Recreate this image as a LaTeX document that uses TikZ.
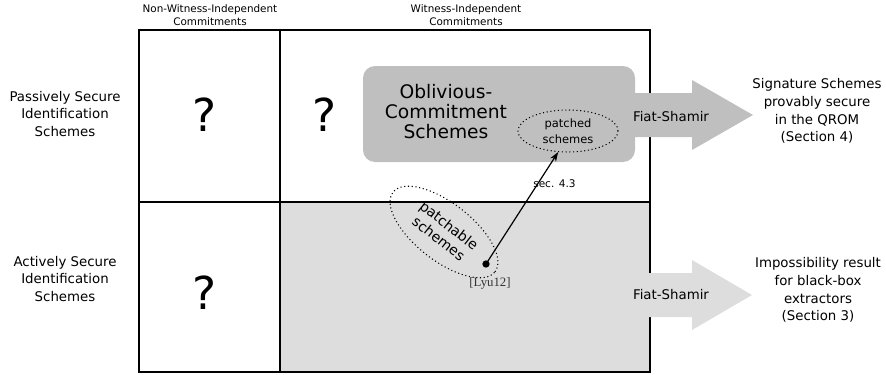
\documentclass[tikz,border=0pt]{standalone}
\usepackage{fontspec}
\setmainfont{DejaVu Sans}
\newfontfamily\refserif{Liberation Serif}
\usetikzlibrary{shapes.geometric,arrows.meta}

\definecolor{boxgray}{HTML}{BFBFBF}
\definecolor{cellgray}{HTML}{DDDDDD}

\begin{document}
\begin{tikzpicture}[x=0.75pt,y=0.75pt,yscale=-1,xscale=1,
  grid line/.style={line width=0.9pt},
  label text/.style={inner sep=0.75pt, align=center, font=\fontsize{10}{12.8}\selectfont},
  result text/.style={inner sep=0.75pt, align=center, font=\fontsize{10}{13.3}\selectfont},
  head text/.style={inner sep=0.75pt, align=center, font=\fontsize{7.8}{9.8}\selectfont},
  big mark/.style={inner sep=0.75pt, font=\fontsize{34}{40}\selectfont},
  dotted oval/.style={draw, ellipse, dotted, line width=0.8pt, inner sep=0pt, align=center}]
\useasboundingbox (0,0) rectangle (886,375);

%Shape: Rectangle [shaded cell]
\fill [cellgray] (280,202) rectangle (650,372);
%Straight Lines [table]
\draw [grid line] (139,30) rectangle (650,372);
\draw [grid line] (280,30) -- (280,372);
\draw [grid line] (139,202) -- (650,202);
%Rounded Rect [oblivious box]
\fill [boxgray, rounded corners=9pt] (363,66) rectangle (635,162);
%Shape: Right Arrow [upper]
\fill [boxgray] (600,93) -- (692,93) -- (692,80) -- (753,115) -- (692,150) -- (692,137) -- (600,137) -- cycle;
%Shape: Right Arrow [lower]
\fill [cellgray] (600,273) -- (692,273) -- (692,260) -- (752,295) -- (692,330) -- (692,317) -- (600,317) -- cycle;

% Text Node
\draw (210,15) node [head text] (nwi) {Non-Witness-Independent\\Commitments};
% Text Node
\draw (466,15) node [head text] (wi) {Witness-Independent\\Commitments};
% Text Node
\draw (65,114) node [label text] (passive) {Passively Secure\\Identification\\Schemes};
% Text Node
\draw (65,279) node [label text] (active) {Actively Secure\\Identification\\Schemes};
% Text Node
\draw (205,115) node [big mark] (qa) {?};
% Text Node
\draw (325,115) node [big mark] (qb) {?};
% Text Node
\draw (205,293) node [big mark] (qc) {?};
% Text Node
\draw (446,112) node [inner sep=0.75pt, align=center, font=\fontsize{14}{15}\selectfont] (ocs) {Oblivious-\\Commitment\\Schemes};
%Shape: Ellipse [patched]
\draw (568,131) node [dotted oval, minimum width=75pt, minimum height=31.5pt, font=\fontsize{8.6}{11.8}\selectfont] (patched) {patched\\schemes};
%Shape: Ellipse [patchable]
\draw (444,232) node [dotted oval, rotate=-38, minimum width=97pt, minimum height=43pt, font=\fontsize{10.5}{12.5}\selectfont] (patchable) {patchable\\schemes};
%Shape: Circle [dot]
\draw (486,264) node [circle, fill, inner sep=0pt, minimum size=5.5pt] (lyu) {};
% Text Node
\draw (490,283) node [inner sep=0.75pt, font=\refserif\fontsize{9.6}{11}\selectfont, text=black!80] (lyuref) {[Lyu12]};
%Straight Lines [sec. 4.3]
\draw [line width=0.9pt, -{Stealth[length=7pt,width=5pt]}] (lyu.center) -- (patched.245);
% Text Node
\draw (532,184) node [anchor=west, inner sep=0.75pt, font=\fontsize{7.9}{9}\selectfont] (sec) {sec. 4.3};
% Text Node
\draw (671,117) node [label text] (fsa) {Fiat-Shamir};
% Text Node
\draw (671,295) node [label text] (fsb) {Fiat-Shamir};
% Text Node
\draw (817,111) node [result text] (sig) {Signature Schemes\\provably secure\\in the QROM\\(Section 4)};
% Text Node
\draw (818,290) node [result text] (imp) {Impossibility result\\for black-box\\extractors\\(Section 3)};

\end{tikzpicture}
\end{document}
